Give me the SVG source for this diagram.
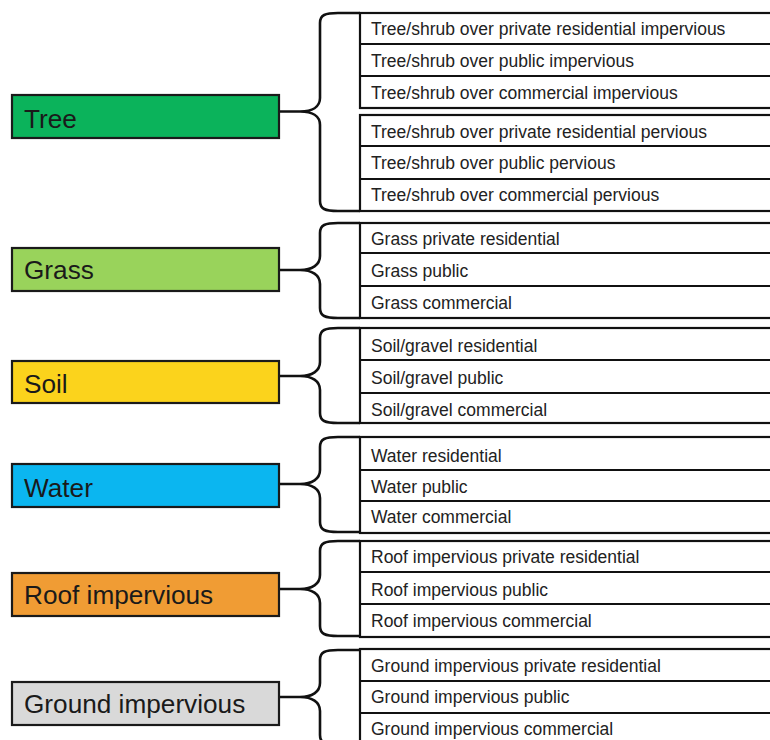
<svg xmlns="http://www.w3.org/2000/svg" width="770" height="740" viewBox="0 0 770 740">
<style>
.cat{stroke:#1a1a1a;stroke-width:2.2}
.ct{font-family:"Liberation Sans",Arial,sans-serif;font-size:26.2px;fill:#1a1a1a}
.lst{fill:#fff;stroke:#111;stroke-width:2.2}
.sep{stroke:#111;stroke-width:2.2}
.it{font-family:"Liberation Sans",Arial,sans-serif;font-size:17.5px;fill:#222}
.br{fill:none;stroke:#111;stroke-width:2.6;stroke-linejoin:round}
</style>
<rect width="770" height="740" fill="#fff"/>

<g id="connectors">
<path class="br" d="M360,13 H338 C325,13 320,15 320,23 V98 C320,107 312,111.5 300,111.5 H279 M300,111.5 C312,111.5 320,116 320,125 V201 C320,209 325,211 338,211 H360"/>
<path class="br" d="M360,223 H338 C325,223 320,225 320,233 V256 C320,265 312,270 300,270 H279 M300,270 C312,270 320,275 320,284 V308 C320,316 325,318 338,318 H360"/>
<path class="br" d="M360,328 H338 C325,328 320,330 320,338 V362 C320,371 312,376 300,376 H279 M300,376 C312,376 320,381 320,390 V413 C320,421 325,423 338,423 H360"/>
<path class="br" d="M360,437 H338 C325,437 320,439 320,447 V470 C320,479 312,484 300,484 H279 M300,484 C312,484 320,489 320,498 V522 C320,530 325,532 338,532 H360"/>
<path class="br" d="M360,541 H338 C325,541 320,543 320,551 V575 C320,584 312,589 300,589 H279 M300,589 C312,589 320,594 320,603 V626 C320,634 325,636 338,636 H360"/>
<path class="br" d="M360,650 H338 C325,650 320,652 320,660 V683 C320,692 312,697 300,697 H279 M300,697 C312,697 320,702 320,711 V735 C320,743 325,745 338,745 H360"/>
</g>

<g id="tree">
<rect class="cat" x="12" y="95" width="267" height="43" fill="#0bb35b"/>
<text class="ct" x="24" y="128">Tree</text>
</g>
<g id="grass">
<rect class="cat" x="12" y="248" width="267" height="43" fill="#99d35b"/>
<text class="ct" x="24" y="279">Grass</text>
</g>
<g id="soil">
<rect class="cat" x="12" y="361" width="267" height="42" fill="#fbd31c"/>
<text class="ct" x="24" y="393">Soil</text>
</g>
<g id="water">
<rect class="cat" x="12" y="464" width="267" height="43" fill="#0bb6f0"/>
<text class="ct" x="24" y="497">Water</text>
</g>
<g id="roof">
<rect class="cat" x="12" y="573" width="267" height="43" fill="#f09c34"/>
<text class="ct" x="24" y="604">Roof impervious</text>
</g>
<g id="ground">
<rect class="cat" x="12" y="682" width="267" height="43" fill="#d9d9d9"/>
<text class="ct" x="24" y="713">Ground impervious</text>
</g>

<g id="tree-impervious">
<rect class="lst" x="360" y="13" width="430" height="95"/>
<line class="sep" x1="360" y1="44" x2="790" y2="44"/>
<line class="sep" x1="360" y1="76" x2="790" y2="76"/>
<text class="it" x="371" y="35">Tree/shrub over private residential impervious</text>
<text class="it" x="371" y="67">Tree/shrub over public impervious</text>
<text class="it" x="371" y="99">Tree/shrub over commercial impervious</text>
</g>
<g id="tree-pervious">
<rect class="lst" x="360" y="115" width="430" height="96"/>
<line class="sep" x1="360" y1="146" x2="790" y2="146"/>
<line class="sep" x1="360" y1="179" x2="790" y2="179"/>
<text class="it" x="371" y="138">Tree/shrub over private residential pervious</text>
<text class="it" x="371" y="169">Tree/shrub over public pervious</text>
<text class="it" x="371" y="201">Tree/shrub over commercial pervious</text>
</g>
<g id="grass-list">
<rect class="lst" x="360" y="223" width="430" height="95"/>
<line class="sep" x1="360" y1="253" x2="790" y2="253"/>
<line class="sep" x1="360" y1="286" x2="790" y2="286"/>
<text class="it" x="371" y="245">Grass private residential</text>
<text class="it" x="371" y="277">Grass public</text>
<text class="it" x="371" y="309">Grass commercial</text>
</g>
<g id="soil-list">
<rect class="lst" x="360" y="328" width="430" height="95"/>
<line class="sep" x1="360" y1="360" x2="790" y2="360"/>
<line class="sep" x1="360" y1="393" x2="790" y2="393"/>
<text class="it" x="371" y="352">Soil/gravel residential</text>
<text class="it" x="371" y="384">Soil/gravel public</text>
<text class="it" x="371" y="416">Soil/gravel commercial</text>
</g>
<g id="water-list">
<rect class="lst" x="360" y="437" width="430" height="96"/>
<line class="sep" x1="360" y1="470" x2="790" y2="470"/>
<line class="sep" x1="360" y1="501" x2="790" y2="501"/>
<text class="it" x="371" y="462">Water residential</text>
<text class="it" x="371" y="493">Water public</text>
<text class="it" x="371" y="523">Water commercial</text>
</g>
<g id="roof-list">
<rect class="lst" x="360" y="541" width="430" height="96"/>
<line class="sep" x1="360" y1="572" x2="790" y2="572"/>
<line class="sep" x1="360" y1="604" x2="790" y2="604"/>
<text class="it" x="371" y="563">Roof impervious private residential</text>
<text class="it" x="371" y="596">Roof impervious public</text>
<text class="it" x="371" y="627">Roof impervious commercial</text>
</g>
<g id="ground-list">
<rect class="lst" x="360" y="649" width="430" height="100"/>
<line class="sep" x1="360" y1="681" x2="790" y2="681"/>
<line class="sep" x1="360" y1="713" x2="790" y2="713"/>
<text class="it" x="371" y="672">Ground impervious private residential</text>
<text class="it" x="371" y="703">Ground impervious public</text>
<text class="it" x="371" y="735">Ground impervious commercial</text>
</g>
</svg>
